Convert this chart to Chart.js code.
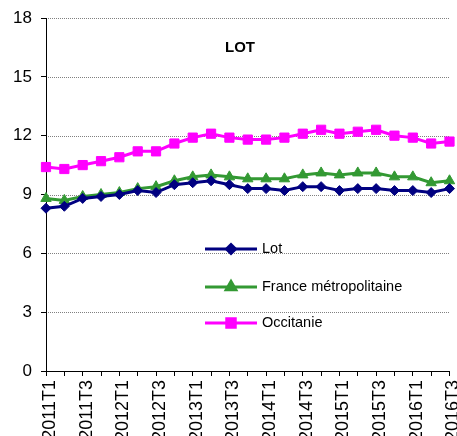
<!DOCTYPE html>
<html>
<head>
<meta charset="utf-8">
<script src="https://cdn.jsdelivr.net/npm/chart.js@4"></script>
<style>
  html, body { margin: 0; padding: 0; background: #fff; overflow: hidden; }
  canvas { display: block; }
</style>
</head>
<body>
<canvas id="chart" width="457" height="436"></canvas>
<script>
// Data (quarters, unemployment rate %)
const quarters = [
    '2011T1', '2011T2', '2011T3', '2011T4',
    '2012T1', '2012T2', '2012T3', '2012T4',
    '2013T1', '2013T2', '2013T3', '2013T4',
    '2014T1', '2014T2', '2014T3', '2014T4',
    '2015T1', '2015T2', '2015T3', '2015T4',
    '2016T1', '2016T2', '2016T3'
];
const lot = [8.3, 8.4, 8.8, 8.9, 9.0, 9.2, 9.1, 9.5, 9.6, 9.7, 9.5, 9.3, 9.3, 9.2, 9.4, 9.4, 9.2, 9.3, 9.3, 9.2, 9.2, 9.1, 9.3];
const france = [8.8, 8.7, 8.9, 9.0, 9.1, 9.3, 9.4, 9.7, 9.9, 10.0, 9.9, 9.8, 9.8, 9.8, 10.0, 10.1, 10.0, 10.1, 10.1, 9.9, 9.9, 9.6, 9.7];
const occitanie = [10.4, 10.3, 10.5, 10.7, 10.9, 11.2, 11.2, 11.6, 11.9, 12.1, 11.9, 11.8, 11.8, 11.9, 12.1, 12.3, 12.1, 12.2, 12.3, 12.0, 11.9, 11.6, 11.7];
const yTicks = [0, 3, 6, 9, 12, 15, 18];

const FONT = '"Liberation Sans", Arial, sans-serif';

function series(label, data, color, style, radius) {
    return {
        label: label,
        data: data,
        borderColor: color,
        backgroundColor: color,
        borderWidth: 3,
        pointStyle: style,
        pointRadius: radius,
        pointBorderWidth: 1,
        pointBackgroundColor: color,
        pointBorderColor: color,
        tension: 0
    };
}

// dotted horizontal gridlines, drawn under the datasets
function drawDotGrid(chart) {
    const ctx = chart.ctx;
    const y = chart.scales.y;
    const area = chart.chartArea;
    ctx.save();
    ctx.fillStyle = '#808080';
    yTicks.forEach(v => {
        if (v === 0) return;
        const py = Math.round(y.getPixelForValue(v));
        for (let x = Math.round(area.left) + 2; x < area.right; x += 2) {
            ctx.fillRect(x, py, 1, 1);
        }
    });
    ctx.restore();
}

const gridPlugin = {
    id: 'dotgrid',
    beforeDatasetsDraw(chart) {
        drawDotGrid(chart);
    }
};

// Title + legend drawn inside the plot, like the original
const insidePlugin = {
    id: 'inside',
    afterDraw(chart) {
        const ctx = chart.ctx;
        ctx.save();
        ctx.fillStyle = '#000';
        ctx.font = 'bold 15px ' + FONT;
        ctx.textAlign = 'center';
        ctx.textBaseline = 'middle';
        ctx.fillText('LOT', 240, 48);

        ctx.font = '14.5px ' + FONT;
        ctx.textAlign = 'left';
        const rows = [249, 287, 323];
        chart.data.datasets.forEach((ds, i) => {
            const y = rows[i];
            ctx.strokeStyle = ds.borderColor;
            ctx.lineWidth = 3;
            ctx.beginPath();
            ctx.moveTo(205, y);
            ctx.lineTo(257, y);
            ctx.stroke();
            ctx.fillStyle = ds.backgroundColor;
            Chart.helpers.drawPoint(ctx, {
                pointStyle: ds.pointStyle,
                radius: ds.pointRadius - 0.5,
                borderWidth: 1,
                rotation: 0
            }, 231, y);
            ctx.fillStyle = '#000';
            ctx.fillText(ds.label, 262, y);
        });
        ctx.restore();
    }
};

const chart = new Chart(document.getElementById('chart'), {
    type: 'line',
    data: {
        labels: quarters,
        datasets: [
            series('Lot', lot, '#000080', 'rectRot', 5),
            series('France métropolitaine', france, '#339933', 'triangle', 6),
            series('Occitanie', occitanie, '#ff00ff', 'rect', 6.5)
        ]
    },
    options: {
        responsive: false,
        animation: false,
        layout: { padding: { top: 18, left: 0, right: 0, bottom: 0 } },
        plugins: {
            legend: { display: false },
            title: { display: false },
            tooltip: { enabled: false }
        },
        scales: {
            x: {
                offset: false,
                grid: {
                    display: true,
                    drawOnChartArea: false,
                    drawTicks: true,
                    tickLength: 5,
                    tickColor: '#000'
                },
                border: { display: true, color: '#000', width: 1 },
                ticks: {
                    autoSkip: false,
                    minRotation: 90,
                    maxRotation: 90,
                    padding: 4,
                    labelOffset: 4,
                    color: '#000',
                    font: { family: FONT, size: 18 },
                    callback: (v, i) => (i % 2 === 0 ? quarters[i] : '')
                },
                afterFit(scale) {
                    scale.height = 65;
                    scale.paddingLeft = 0;
                    scale.paddingRight = 0;
                }
            },
            y: {
                min: 0,
                max: 18,
                afterBuildTicks(scale) {
                    scale.ticks = yTicks.map(v => ({ value: v }));
                },
                grid: {
                    drawOnChartArea: false,
                    drawTicks: true,
                    tickLength: 5,
                    tickColor: '#000'
                },
                border: { display: true, color: '#000', width: 1 },
                ticks: {
                    padding: 9,
                    color: '#000',
                    font: { family: FONT, size: 17 }
                },
                afterFit(scale) {
                    scale.width = 46;
                    scale.paddingTop = 0;
                    scale.paddingBottom = 0;
                }
            }
        }
    },
    plugins: [gridPlugin, insidePlugin]
});
</script>
</body>
</html>
